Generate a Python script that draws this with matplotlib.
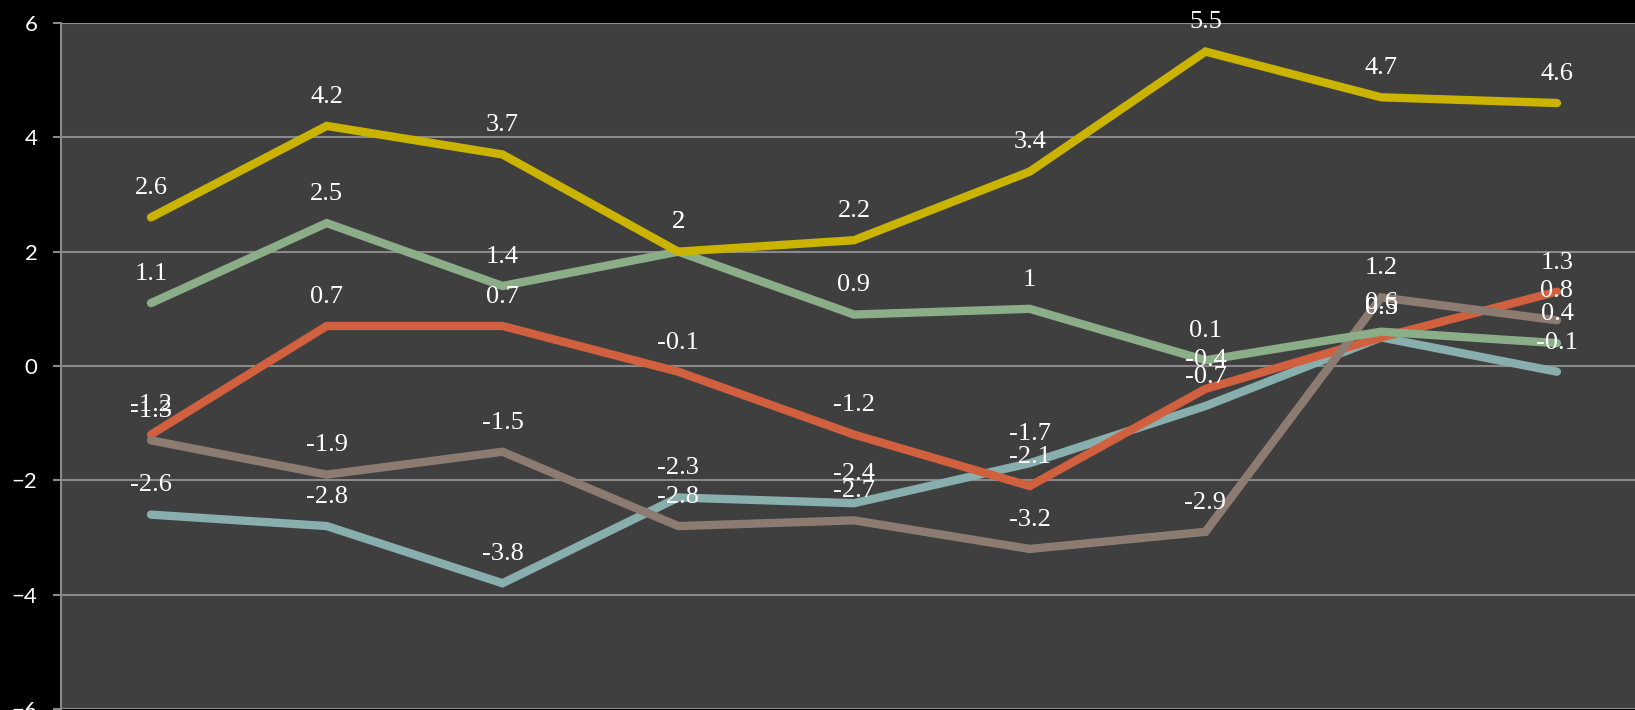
import matplotlib.pyplot as plt

# =========================
# data
# =========================

categories = list(range(9))

yellow_vals = [2.6, 4.2, 3.7, 2.0, 2.2, 3.4, 5.5, 4.7, 4.6]
green_vals = [1.1, 2.5, 1.4, 2.0, 0.9, 1.0, 0.1, 0.6, 0.4]
red_vals = [-1.2, 0.7, 0.7, -0.1, -1.2, -2.1, -0.4, 0.5, 1.3]
brown_vals = [-1.3, -1.9, -1.5, -2.8, -2.7, -3.2, -2.9, 1.2, 0.8]
teal_vals = [-2.6, -2.8, -3.8, -2.3, -2.4, -1.7, -0.7, 0.5, -0.1]

y_ticks = [-6, -4, -2, 0, 2, 4, 6]

# bottom -> top drawing order
series = [
    (teal_vals, "#88aeae"),
    (red_vals, "#d1603f"),
    (brown_vals, "#8c7b70"),
    (green_vals, "#8bad88"),
    (yellow_vals, "#cbb400"),
]


def fmt(v):
    return f"{v:g}"


fig = plt.figure(figsize=(16.35, 7.10), dpi=100, facecolor="black")
ax = fig.add_axes([61 / 1635, 1 / 710, (1635 - 61) / 1635, 686 / 710])
ax.set_facecolor("#3f3f3f")

for z, (vals, color) in enumerate(series):
    ax.plot(categories, vals, color=color, lw=6, solid_capstyle="round",
            solid_joinstyle="miter", zorder=3 + z)

# data labels on top of all lines
for vals, color in series:
    for x, v in zip(categories, vals):
        ax.annotate(fmt(v), (x, v), xytext=(0, 21), textcoords="offset points",
                    ha="center", va="center", color="white", fontsize=19,
                    family="Liberation Serif", zorder=20)

ax.set_xlim(-0.512, 8.444)
ax.set_ylim(-6, 6)
ax.set_yticks(y_ticks)
ax.set_xticks([])

ax.grid(True, axis="y", color="#8a8a8a", lw=1.5, zorder=1)
ax.set_axisbelow(True)

for side in ["top", "right", "bottom"]:
    ax.spines[side].set_visible(False)
ax.spines["left"].set_color("#8a8a8a")
ax.spines["left"].set_linewidth(1.5)

ax.tick_params(axis="y", colors="#8a8a8a", length=6, width=1.5, pad=11,
               labelcolor="white", labelsize=16)
for lab in ax.get_yticklabels():
    lab.set_family("Lato")

fig.savefig("out.png", dpi=100, facecolor="black")
